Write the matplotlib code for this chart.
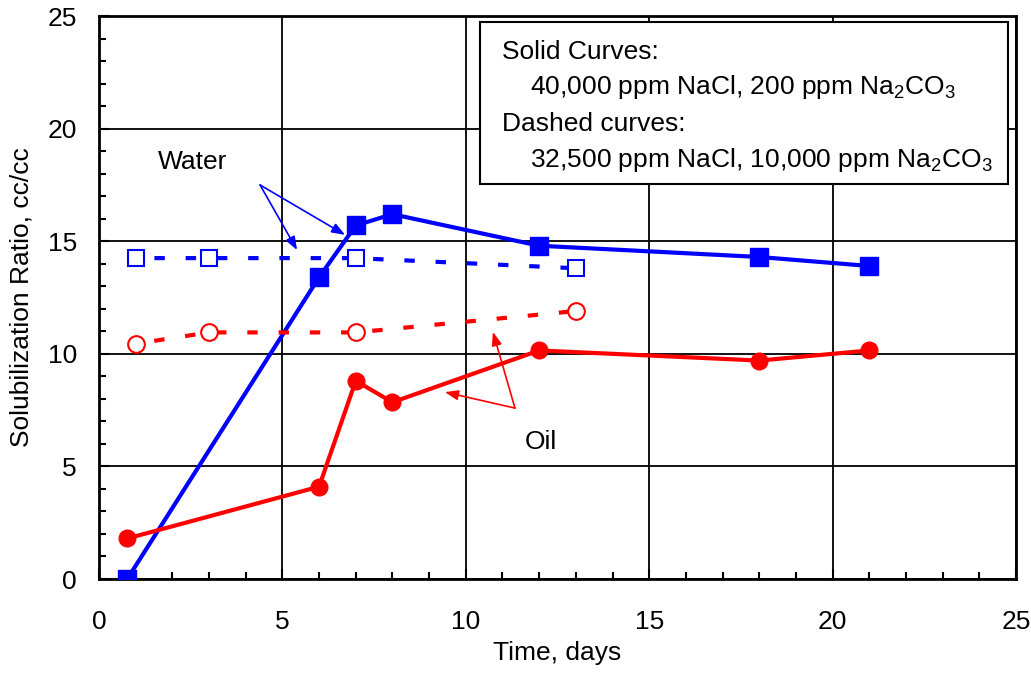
import matplotlib
matplotlib.use("Agg")
import matplotlib.pyplot as plt
from matplotlib.ticker import MultipleLocator

plt.rcParams['font.family'] = ['Liberation Sans', 'DejaVu Sans']
plt.rcParams['mathtext.fontset'] = 'custom'
plt.rcParams['mathtext.rm'] = 'Liberation Sans'
plt.rcParams['mathtext.default'] = 'regular'

# solid curves: 40,000 ppm NaCl, 200 ppm Na2CO3
solid_days_water = [0.77, 6, 7, 8, 12, 18, 21]
solid_water = [0.0, 13.4, 15.7, 16.2, 14.8, 14.3, 13.9]
solid_days_oil = [0.77, 6, 7, 8, 12, 18, 21]
solid_oil = [1.8, 4.1, 8.8, 7.85, 10.15, 9.7, 10.15]

# dashed curves: 32,500 ppm NaCl, 10,000 ppm Na2CO3
dashed_days = [1, 3, 7, 13]
dashed_water = [14.25, 14.25, 14.25, 13.8]
dashed_oil = [10.45, 10.95, 10.95, 11.9]

FS = 19

fig = plt.figure(figsize=(10.31, 6.82), dpi=100)
ax = fig.add_axes([0.096, 0.151, 0.8895, 0.8255])

ax.plot(solid_days_water, solid_water, '-s', color='#0000FF', lw=3, ms=13, zorder=4)
ax.plot(solid_days_oil, solid_oil, '-o', color='#FF0000', lw=3, ms=12, zorder=4)
ax.plot(dashed_days, dashed_water, 's', color='#0000FF', ms=11.5, mfc='white', mew=1.5,
        ls=(3, (2.5, 5)), lw=3, zorder=4)
ax.plot(dashed_days, dashed_oil, 'o', color='#FF0000', ms=12, mfc='white', mew=1.5,
        ls=(3, (2.5, 5)), lw=3, zorder=4)

ax.set_xlim(0, 25)
ax.set_ylim(0, 25)
ax.xaxis.set_major_locator(MultipleLocator(5))
ax.yaxis.set_major_locator(MultipleLocator(5))
ax.xaxis.set_minor_locator(MultipleLocator(1))
ax.yaxis.set_minor_locator(MultipleLocator(1))
ax.tick_params(which='major', direction='in', length=7, width=1.5, labelsize=FS)
ax.tick_params(which='minor', direction='in', length=5, width=1.5)
ax.tick_params(axis='x', pad=22)
ax.tick_params(axis='y', pad=16)
ax.grid(which='major', color='black', lw=1.3)
for s in ax.spines.values():
    s.set_linewidth(2)
    s.set_color('black')

ax.set_xlabel("Time, days", fontsize=FS, labelpad=5)
ax.set_ylabel("Solubilization Ratio, cc/cc", fontsize=FS, labelpad=10)

# annotations
ax.text(2.56, 18.5, "Water", fontsize=FS, ha='center', va='center', zorder=5)
for tip in [(6.71, 15.28), (5.40, 14.61)]:
    ax.annotate("", xy=tip, xytext=(4.39, 17.5),
                arrowprops=dict(arrowstyle='-|>,head_length=0.8,head_width=0.3',
                                color='#0000FF', lw=1.2, shrinkA=0, shrinkB=0), zorder=5)
ax.text(12.05, 6.1, "Oil", fontsize=FS, ha='center', va='center', zorder=5)
for tip in [(9.43, 8.30), (10.74, 10.97)]:
    ax.annotate("", xy=tip, xytext=(11.34, 7.59),
                arrowprops=dict(arrowstyle='-|>,head_length=0.8,head_width=0.3',
                                color='#FF0000', lw=1.2, shrinkA=0, shrinkB=0), zorder=5)

# condition box
box = plt.Rectangle((10.39, 17.54), 24.78 - 10.39, 24.73 - 17.54, facecolor='white',
                    edgecolor='black', lw=1.5, zorder=6)
ax.add_patch(box)
ax.text(11.0, 23.4, "Solid Curves:", fontsize=FS, va='center', zorder=7)
ax.text(11.75, 21.85, "40,000 ppm NaCl, 200 ppm Na$_2$CO$_3$", fontsize=FS, va='center', zorder=7)
ax.text(11.0, 20.2, "Dashed curves:", fontsize=FS, va='center', zorder=7)
ax.text(11.75, 18.6, "32,500 ppm NaCl, 10,000 ppm Na$_2$CO$_3$", fontsize=FS, va='center', zorder=7)

fig.savefig("out.png", dpi=100)
